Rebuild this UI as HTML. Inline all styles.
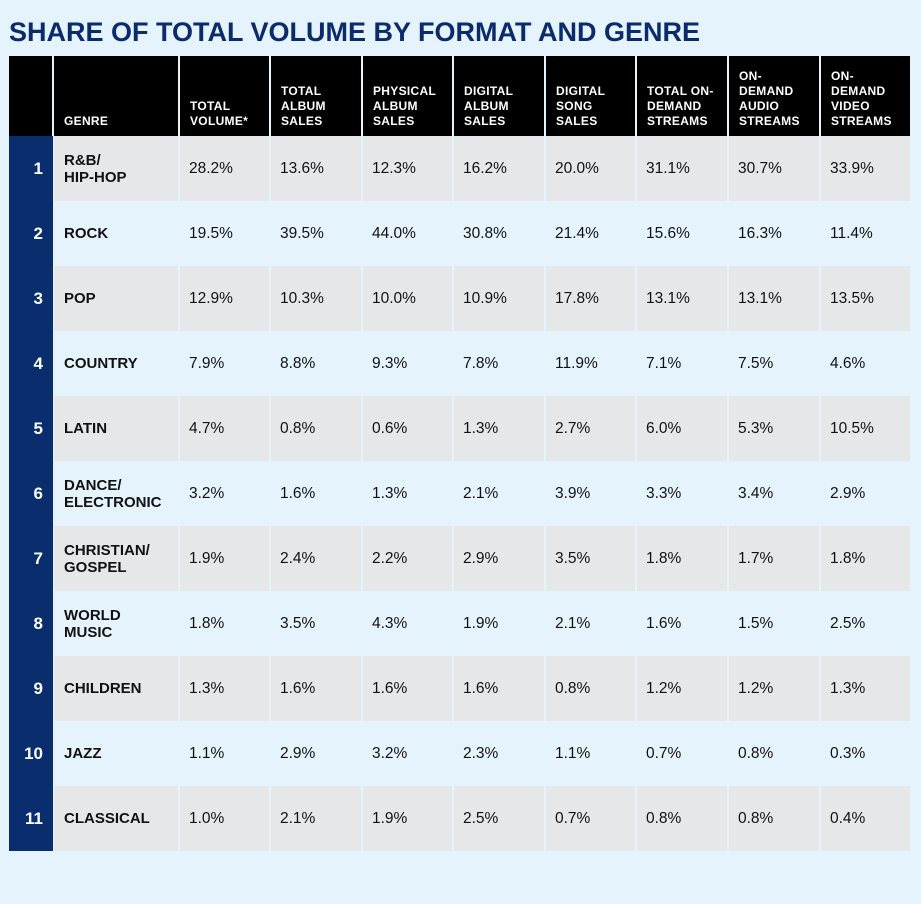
<!DOCTYPE html>
<html><head><meta charset="utf-8">
<style>
body{margin:0;width:921px;height:904px;background:#e5f3fc;font-family:"Liberation Sans",sans-serif;position:relative;overflow:hidden}
#title{position:absolute;left:9px;top:17px;font-size:27px;font-weight:bold;color:#0b2b6c;letter-spacing:0px;white-space:nowrap;transform:scaleX(1.0);transform-origin:left}
.c{position:absolute;box-sizing:border-box}
.h{background:#000;color:#fff;font-weight:bold;font-size:12px;line-height:15px;display:flex;align-items:flex-end;padding:0 0 7px 10px;letter-spacing:0.3px}
.rk{background:#0a2d6e;color:#fff;font-weight:bold;font-size:17px;display:flex;align-items:center;justify-content:flex-end;padding-right:10px}
.g{font-weight:bold;font-size:15px;line-height:17px;color:#111;display:flex;align-items:center;padding-left:10px}
.v{font-size:15.5px;color:#111;display:flex;align-items:center;padding-left:9px}
</style></head><body>
<div id="title">SHARE OF TOTAL VOLUME BY FORMAT AND GENRE</div>
<div id="tbl"></div>
<script>
const headers=["GENRE","TOTAL<br>VOLUME*","TOTAL<br>ALBUM<br>SALES","PHYSICAL<br>ALBUM<br>SALES","DIGITAL<br>ALBUM<br>SALES","DIGITAL<br>SONG<br>SALES","TOTAL ON-<br>DEMAND<br>STREAMS","ON-<br>DEMAND<br>AUDIO<br>STREAMS","ON-<br>DEMAND<br>VIDEO<br>STREAMS"];
const genres=["R&amp;B/<br>HIP-HOP","ROCK","POP","COUNTRY","LATIN","DANCE/<br>ELECTRONIC","CHRISTIAN/<br>GOSPEL","WORLD<br>MUSIC","CHILDREN","JAZZ","CLASSICAL"];
const values=[
["28.2%","13.6%","12.3%","16.2%","20.0%","31.1%","30.7%","33.9%"],
["19.5%","39.5%","44.0%","30.8%","21.4%","15.6%","16.3%","11.4%"],
["12.9%","10.3%","10.0%","10.9%","17.8%","13.1%","13.1%","13.5%"],
["7.9%","8.8%","9.3%","7.8%","11.9%","7.1%","7.5%","4.6%"],
["4.7%","0.8%","0.6%","1.3%","2.7%","6.0%","5.3%","10.5%"],
["3.2%","1.6%","1.3%","2.1%","3.9%","3.3%","3.4%","2.9%"],
["1.9%","2.4%","2.2%","2.9%","3.5%","1.8%","1.7%","1.8%"],
["1.8%","3.5%","4.3%","1.9%","2.1%","1.6%","1.5%","2.5%"],
["1.3%","1.6%","1.6%","1.6%","0.8%","1.2%","1.2%","1.3%"],
["1.1%","2.9%","3.2%","2.3%","1.1%","0.7%","0.8%","0.3%"],
["1.0%","2.1%","1.9%","2.5%","0.7%","0.8%","0.8%","0.4%"]];
const T=document.getElementById('tbl');
const colX=[54,180,271,363,454,546,637,729,821,912];
const top0=56,hH=80,rH=65;
function cell(cls,x,y,w,h,html,bg){const d=document.createElement('div');d.className='c '+cls;d.style.left=x+'px';d.style.top=y+'px';d.style.width=w+'px';d.style.height=h+'px';if(bg)d.style.background=bg;d.innerHTML=html;T.appendChild(d);return d;}
let hc=cell('h',9,top0,43,hH,'');


headers.forEach((t,i)=>{const d=cell('h',colX[i],top0,colX[i+1]-colX[i]-2,hH,t);

});
genres.forEach((g,r)=>{const y=top0+hH+r*rH;const bg=r%2?'#e5f3fc':'#e6e7e9';
const rk=cell('rk',9,y,44,rH,String(r+1));


const gc=cell('g',colX[0],y,colX[1]-colX[0]-2,rH,g,bg);


values[r].forEach((v,i)=>{const d=cell('v',colX[i+1],y,colX[i+2]-colX[i+1]-2,rH,v,bg);

});});
</script>
</body></html>
